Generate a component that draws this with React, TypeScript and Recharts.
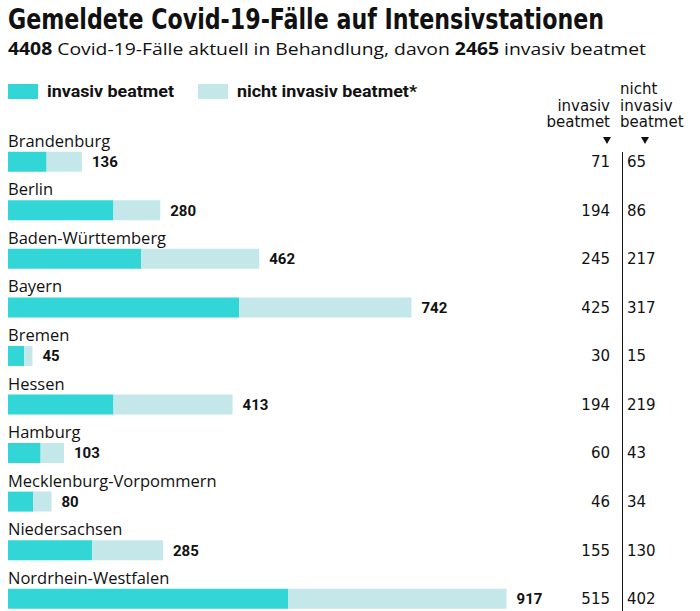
import React from 'react';
import { BarChart, Bar, XAxis, YAxis, LabelList } from 'recharts';

// Werte aus der Grafik
const laender = [
    'Brandenburg',
    'Berlin',
    'Baden-Württemberg',
    'Bayern',
    'Bremen',
    'Hessen',
    'Hamburg',
    'Mecklenburg-Vorpommern',
    'Niedersachsen',
    'Nordrhein-Westfalen',
];
const invasiv = [71, 194, 245, 425, 30, 194, 60, 46, 155, 515];
const nichtInvasiv = [65, 86, 217, 317, 15, 219, 43, 34, 130, 402];
const gesamt = [136, 280, 462, 742, 45, 413, 103, 80, 285, 917];

const TEAL = '#33d6d6';
const LIGHT = '#c4e8ea';
const INK = '#111';

const rows = laender.map((land, i) => ({
    land,
    inv: invasiv[i],
    nicht: nichtInvasiv[i],
    total: gesamt[i],
}));

const labelFont = "'Open Sans', sans-serif";
const numFont = "'DejaVu Sans', sans-serif";
const boldFont = "Roboto, sans-serif";

const NameLabel = (props: any) => {
    const { y, value } = props;
    return (
        <text x={8} y={y - 5} fontFamily={labelFont} fontSize={16.5} fill={INK}>
            {value}
        </text>
    );
};

const TotalLabel = (props: any) => {
    const { x, y, width, height, value } = props;
    return (
        <text
            x={x + width + 10}
            y={y + height / 2}
            dy="0.36em"
            fontFamily={boldFont}
            fontWeight={700}
            fontSize={15}
            fill={INK}
        >
            {value}
        </text>
    );
};

const InvLabel = (props: any) => {
    const { y, height, value } = props;
    return (
        <text x={610} y={y + height / 2} dy="0.36em" textAnchor="end" fontFamily={numFont} fontSize={15} fill={INK}>
            {value}
        </text>
    );
};

const NichtLabel = (props: any) => {
    const { y, height, value } = props;
    return (
        <text x={627} y={y + height / 2} dy="0.36em" fontFamily={numFont} fontSize={15} fill={INK}>
            {value}
        </text>
    );
};

const Header = () => (
    <svg
        width={700}
        height={611}
        style={{ position: 'absolute', left: 0, top: 0, pointerEvents: 'none' }}
    >
        <text
            x={8}
            y={29}
            fontFamily="'Liberation Sans Narrow', 'DejaVu Sans Condensed', 'Liberation Sans', sans-serif"
            fontWeight={700}
            fontSize={28}
            fill={INK}
            textLength={596}
            lengthAdjust="spacingAndGlyphs"
        >
            Gemeldete Covid-19-Fälle auf Intensivstationen
        </text>
        <text
            x={8}
            y={55}
            fontFamily={labelFont}
            fontSize={17}
            fill={INK}
            textLength={638}
            lengthAdjust="spacingAndGlyphs"
        >
            <tspan fontWeight={700}>4408</tspan> Covid-19-Fälle aktuell in Behandlung, davon{' '}
            <tspan fontWeight={700}>2465</tspan> invasiv beatmet
        </text>

        <rect x={8} y={84} width={30} height={15} fill={TEAL} />
        <text x={47} y={97} fontFamily={boldFont} fontWeight={700} fontSize={16} fill={INK} textLength={127} lengthAdjust="spacingAndGlyphs">
            invasiv beatmet
        </text>
        <rect x={198} y={84} width={30} height={15} fill={LIGHT} />
        <text x={237} y={97} fontFamily={boldFont} fontWeight={700} fontSize={16} fill={INK} textLength={180} lengthAdjust="spacingAndGlyphs">
            nicht invasiv beatmet*
        </text>

        <g fontFamily={numFont} fontSize={15} fill={INK}>
            <text x={610} y={110.5} textAnchor="end">invasiv</text>
            <text x={610} y={127} textAnchor="end">beatmet</text>
            <text x={620} y={94}>nicht</text>
            <text x={620} y={110.5}>invasiv</text>
            <text x={620} y={127}>beatmet</text>
            <polygon points="603,137 611,137 607,144" />
            <polygon points="641,137 649,137 645,144" />
        </g>
        <line x1={622.5} x2={622.5} y1={152} y2={611} stroke={INK} strokeWidth={1} />
    </svg>
);

export default function App() {
    return (
        <div
            style={{
                position: 'absolute',
                left: 0,
                top: 0,
                width: 700,
                height: 611,
                overflow: 'hidden',
                background: '#fff',
            }}
        >
            <BarChart
                width={700}
                height={640}
                data={rows}
                layout="vertical"
                margin={{ top: 137.7, right: 193.4, bottom: 16.7, left: 8 }}
            >
                <XAxis type="number" domain={[0, 917]} hide />
                <YAxis type="category" dataKey="land" hide />
                <Bar dataKey="inv" stackId="a" fill={TEAL} barSize={20} isAnimationActive={false}>
                    <LabelList dataKey="land" content={NameLabel} />
                    <LabelList dataKey="inv" content={InvLabel} />
                </Bar>
                <Bar dataKey="nicht" stackId="a" fill={LIGHT} barSize={20} isAnimationActive={false}>
                    <LabelList dataKey="total" content={TotalLabel} />
                    <LabelList dataKey="nicht" content={NichtLabel} />
                </Bar>
            </BarChart>
            <Header />
        </div>
    );
}
